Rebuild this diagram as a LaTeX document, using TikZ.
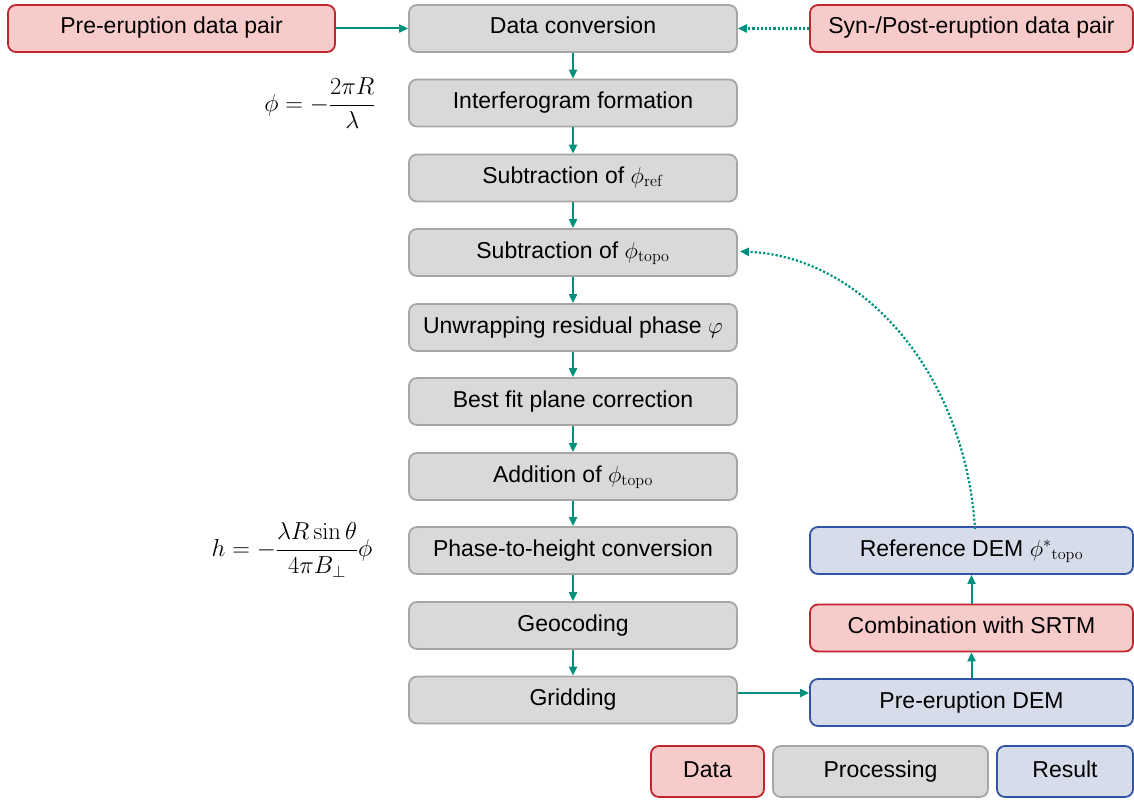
\RequirePackage{fix-cm}
\documentclass[tikz,border=0pt]{standalone}
\usepackage{amsmath}
\usepackage[no-math]{fontspec}
\setmainfont{Liberation Sans}
\usetikzlibrary{arrows.meta}
\definecolor{redfill}{RGB}{248,203,203}
\definecolor{redline}{RGB}{192,38,45}
\definecolor{grayfill}{RGB}{217,217,217}
\definecolor{grayline}{RGB}{166,166,166}
\definecolor{bluefill}{RGB}{214,220,234}
\definecolor{blueline}{RGB}{47,85,164}
\definecolor{teal}{RGB}{0,145,125}
\tikzset{
  base/.style={rounded corners=8pt, line width=1.8pt, minimum height=47pt, inner sep=0pt, text height=16pt, text depth=5pt, font=\fontsize{23}{27}\selectfont},
  databox/.style={base, draw=redline, fill=redfill},
  procbox/.style={base, draw=grayline, fill=grayfill, minimum width=328pt},
  resbox/.style={base, draw=blueline, fill=bluefill},
  conn/.style={draw=teal, line width=2pt, -{Triangle[length=9pt,width=8pt]}},
  dotconn/.style={draw=teal, line width=2.2pt, dotted, -{Triangle[length=9pt,width=8pt]}},
  formula/.style={font=\fontsize{24.5}{29}\selectfont, inner sep=0pt},
}
\begin{document}
\begin{tikzpicture}[x=1pt,y=-1pt]
\useasboundingbox (0,0) rectangle (1134,800);
% main column
\node[procbox] (p1) at (573,28.5) {Data conversion};
\node[procbox] (p2) at (573,103) {Interferogram formation};
\node[procbox] (p3) at (573,178) {Subtraction of $\phi_{\mathrm{ref}}$};
\node[procbox] (p4) at (573,252.5) {Subtraction of $\phi_{\mathrm{topo}}$};
\node[procbox] (p5) at (573,327.5) {Unwrapping residual phase $\varphi$};
\node[procbox] (p6) at (573,401.5) {Best fit plane correction};
\node[procbox] (p7) at (573,476.5) {Addition of $\phi_{\mathrm{topo}}$};
\node[procbox] (p8) at (573,550.5) {Phase-to-height conversion};
\node[procbox] (p9) at (573,625.5) {Geocoding};
\node[procbox] (p10) at (573,700) {Gridding};
% data inputs
\node[databox, minimum width=327pt] (pre) at (171.5,28.5) {Pre-eruption data pair};
\node[databox, minimum width=323pt] (syn) at (971.5,28.5) {Syn-/Post-eruption data pair};
% right column
\node[resbox, minimum width=323pt] (ref) at (971.5,550.5) {Reference DEM $\phi^{*}{}_{\mathrm{topo}}$};
\node[databox, minimum width=323pt] (comb) at (971.5,628) {Combination with SRTM};
\node[resbox, minimum width=323pt] (pdem) at (971.5,702.5) {Pre-eruption DEM};
% formulas
\node[formula] (f1) at (320,103) {$\displaystyle \phi=-\frac{2\pi R}{\lambda}$};
\node[formula] (f2) at (292,550) {$\displaystyle h=-\frac{\lambda R\sin\theta}{4\pi B_{\perp}}\phi$};
% legend
\node[databox, minimum width=113pt, minimum height=51pt] (lg1) at (707.5,771.5) {Data};
\node[procbox, minimum width=215pt, minimum height=51pt] (lg2) at (880.5,771.5) {Processing};
\node[resbox, minimum width=136pt, minimum height=51pt] (lg3) at (1065,771.5) {Result};
% connectors
\draw[conn] (pre) -- (p1);
\draw[dotconn] (syn) -- (p1);
\foreach \a/\b in {p1/p2,p2/p3,p3/p4,p4/p5,p5/p6,p6/p7,p7/p8,p8/p9,p9/p10}
  \draw[conn] (\a) -- (\b);
\draw[conn] ([yshift=7pt]p10.east) -- ([yshift=7pt]p10.east -| pdem.west);
\draw[conn] (pdem) -- (comb);
\draw[conn] (comb) -- (ref);
\draw[dotconn] ([xshift=3.5pt,yshift=-3pt]ref.north) .. controls (965,370) and (860,256) .. ([xshift=2pt,yshift=1pt]p4.east);
\end{tikzpicture}
\end{document}
